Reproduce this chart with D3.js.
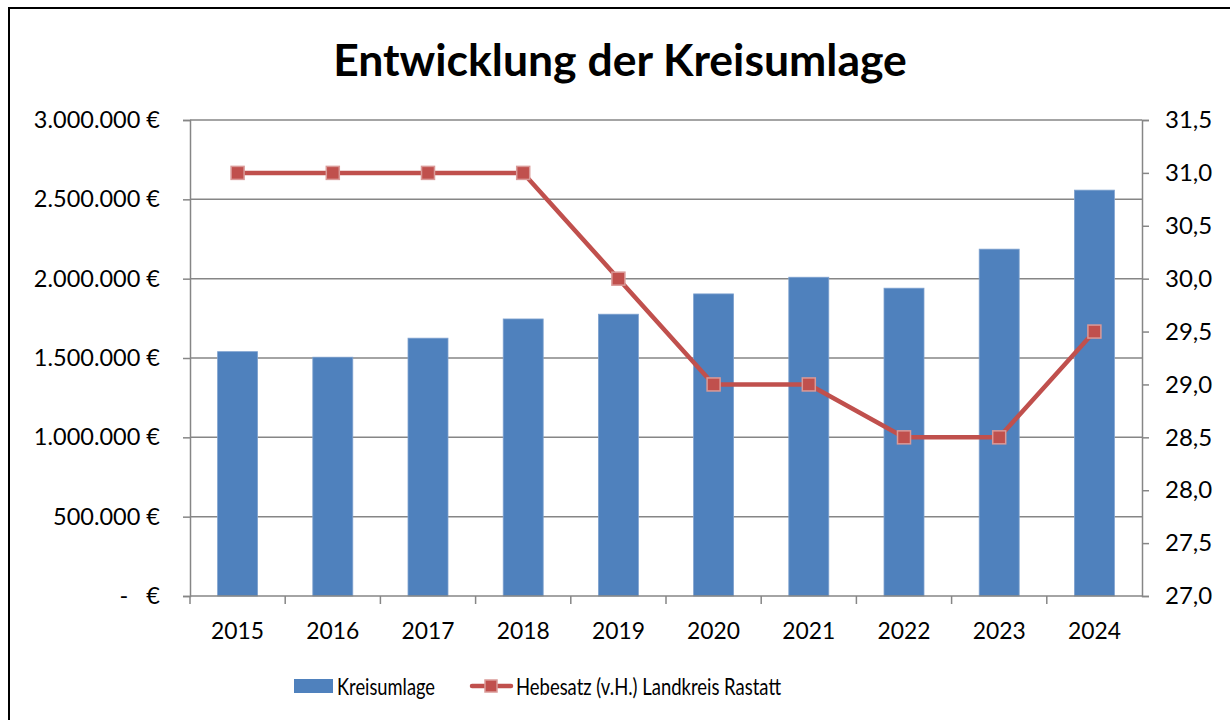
<!DOCTYPE html>
<html>
<head>
<meta charset="utf-8">
<script src="https://cdn.jsdelivr.net/npm/d3@7"></script>
<style>
  html, body { margin: 0; padding: 0; background: #fff; }
  svg { display: block; }
  text { font-family: Lato, "Open Sans", sans-serif; fill: #000; white-space: pre; }
</style>
</head>
<body>
<svg id="chart" width="1230" height="720"></svg>
<script>
// Jahre, Kreisumlage (Euro) und Hebesatz (v.H.)
const years = ["2015", "2016", "2017", "2018", "2019", "2020", "2021", "2022", "2023", "2024"];
const kreisumlage = [1540000, 1505000, 1625000, 1746000, 1776000, 1904000, 2009000, 1940000, 2186000, 2558000];
const hebesatz = [31.0, 31.0, 31.0, 31.0, 30.0, 29.0, 29.0, 28.5, 28.5, 29.5];
const leftTicks = [0, 500000, 1000000, 1500000, 2000000, 2500000, 3000000];
const rightTicks = [27.0, 27.5, 28.0, 28.5, 29.0, 29.5, 30.0, 30.5, 31.0, 31.5];
const chartTitle = "Entwicklung der Kreisumlage";
const seriesNames = ["Kreisumlage", "Hebesatz (v.H.) Landkreis Rastatt"];

const svg = d3.select("#chart");
const plot = { left: 190, right: 1142, top: 120, bottom: 596 };

const barColor = "#4F81BD", lineColor = "#C0504D", axisColor = "#868686";

// Rahmen
svg.append("rect")
  .attr("x", 9).attr("y", 8).attr("width", 1240).attr("height", 740)
  .attr("fill", "#fff").attr("stroke", "#000").attr("stroke-width", 2);

// Titel
svg.append("text")
  .attr("x", 620).attr("y", 76)
  .attr("text-anchor", "middle")
  .style("font-size", "44.5px").style("font-weight", "bold")
  .text(chartTitle);

const x = d3.scaleBand().domain(years).range([plot.left, plot.right]).paddingInner(0.58).paddingOuter(0.29);
const xCat = d3.scaleBand().domain(years).range([plot.left, plot.right]);
const yL = d3.scaleLinear().domain([0, 3000000]).range([plot.bottom, plot.top]);
const yR = d3.scaleLinear().domain([27, 31.5]).range([plot.bottom, plot.top]);

const de = d3.formatLocale({ decimal: ",", thousands: ".", grouping: [3], currency: ["", " €"] });
const fmtEuro = v => v === 0 ? "-   €" : de.format(",.0f")(v) + " €";
const fmtR = de.format(".1f");

// Gitternetzlinien
svg.append("g").selectAll("line")
  .data(leftTicks.slice(1))
  .join("line")
  .attr("x1", plot.left).attr("x2", plot.right)
  .attr("y1", d => yL(d)).attr("y2", d => yL(d))
  .attr("stroke", axisColor).attr("stroke-width", 1.5);

// Balken
svg.append("g").selectAll("rect")
  .data(years)
  .join("rect")
  .attr("x", d => x(d))
  .attr("width", x.bandwidth())
  .attr("y", (d, i) => yL(kreisumlage[i]))
  .attr("height", (d, i) => plot.bottom - yL(kreisumlage[i]))
  .attr("fill", barColor)
  .attr("stroke", "#7FA2CF").attr("stroke-width", 0.8);

// Linke Achse
const gL = svg.append("g").attr("transform", `translate(${plot.left},0)`)
  .call(d3.axisLeft(yL).tickValues(leftTicks).tickFormat(fmtEuro).tickSize(7).tickPadding(23));
gL.selectAll("path, line").attr("stroke", axisColor).attr("stroke-width", 1.5);
gL.selectAll("text").style("font-size", "23.5px").style("font-family", "Lato, sans-serif").attr("fill", "#000");

// Rechte Achse
const gR = svg.append("g").attr("transform", `translate(${plot.right},0)`)
  .call(d3.axisRight(yR).tickValues(rightTicks).tickFormat(fmtR).tickSize(7).tickPadding(16));
gR.selectAll("path, line").attr("stroke", axisColor).attr("stroke-width", 1.5);
gR.selectAll("text").style("font-size", "24px").style("font-family", "Lato, sans-serif").attr("fill", "#000");

// X-Achse mit Teilstrichen an den Kategoriegrenzen
svg.append("line")
  .attr("x1", plot.left).attr("x2", plot.right)
  .attr("y1", plot.bottom).attr("y2", plot.bottom)
  .attr("stroke", axisColor).attr("stroke-width", 1.5);
svg.append("g").selectAll("line")
  .data(years)
  .join("line")
  .attr("x1", d => xCat(d)).attr("x2", d => xCat(d))
  .attr("y1", plot.bottom).attr("y2", plot.bottom + 8)
  .attr("stroke", axisColor).attr("stroke-width", 1.5);
svg.append("g").selectAll("text")
  .data(years)
  .join("text")
  .attr("x", d => xCat(d) + xCat.bandwidth() / 2)
  .attr("y", 639)
  .attr("text-anchor", "middle")
  .attr("textLength", 53).attr("lengthAdjust", "spacingAndGlyphs")
  .style("font-size", "24px")
  .text(d => d);

// Linie Hebesatz
const line = d3.line()
  .x((d, i) => xCat(years[i]) + xCat.bandwidth() / 2)
  .y(d => yR(d));
svg.append("path")
  .datum(hebesatz)
  .attr("d", line)
  .attr("fill", "none")
  .attr("stroke", lineColor).attr("stroke-width", 4.5)
  .attr("stroke-linejoin", "round");

const ms = 13;
svg.append("g").selectAll("rect")
  .data(hebesatz)
  .join("rect")
  .attr("x", (d, i) => xCat(years[i]) + xCat.bandwidth() / 2 - ms / 2)
  .attr("y", d => yR(d) - ms / 2)
  .attr("width", ms).attr("height", ms)
  .attr("fill", lineColor)
  .attr("stroke", "#DA9A98").attr("stroke-width", 1.5);

// Legende
const leg = svg.append("g");
leg.append("rect").attr("x", 294).attr("y", 679).attr("width", 39).attr("height", 14).attr("fill", barColor);
leg.append("text").attr("x", 337).attr("y", 695)
  .attr("textLength", 98).attr("lengthAdjust", "spacingAndGlyphs")
  .style("font-size", "23px").text(seriesNames[0]);
leg.append("line").attr("x1", 472).attr("x2", 511).attr("y1", 686).attr("y2", 686)
  .attr("stroke", lineColor).attr("stroke-width", 4.5).attr("stroke-linecap", "round");
leg.append("rect").attr("x", 485).attr("y", 680).attr("width", 12).attr("height", 12)
  .attr("fill", lineColor).attr("stroke", "#DA9A98").attr("stroke-width", 1.5);
leg.append("text").attr("x", 516).attr("y", 695)
  .attr("textLength", 265).attr("lengthAdjust", "spacingAndGlyphs")
  .style("font-size", "23px").text(seriesNames[1]);
</script>
</body>
</html>
